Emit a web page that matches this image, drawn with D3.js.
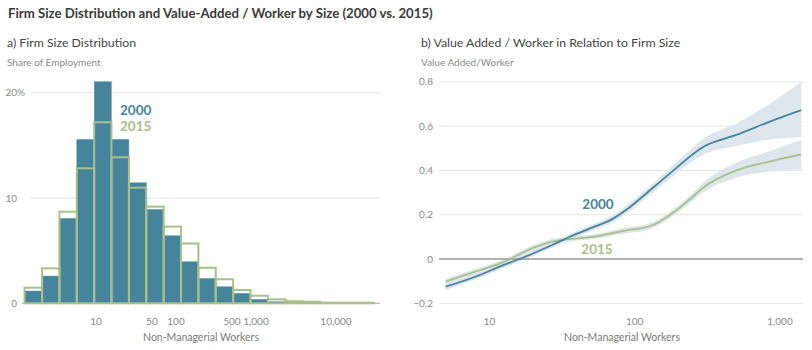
<!DOCTYPE html>
<html>
<head>
<meta charset="utf-8">
<script src="https://cdn.jsdelivr.net/npm/d3@7"></script>
<style>
  body { margin: 0; background: #fff; }
  svg { font-family: Lato, "Open Sans", sans-serif; }
  .grid line { stroke: #e4e4e4; stroke-width: 1; }
  .tick-label { fill: #8a8a8a; font-size: 10px; }
  .axis-title { fill: #7a7a7a; font-size: 10.5px; }
</style>
</head>
<body>
<script>
// ---- data ----
// histogram bin edges (number of non-managerial workers)
var binEdges = [1.28, 2.12, 3.49, 5.75, 9.49, 15.6, 25.8, 42.5, 70.1, 115.6, 190.6, 314, 518, 854, 1408, 2322, 3827, 6310, 29700];
var share2000 = [1.17, 2.59, 8.07, 15.57, 21.05, 15.57, 11.45, 8.93, 6.42, 3.95, 2.37, 1.58, 0.95, 0.38, 0.15, 0.05, 0.03, 0.02];
var share2015 = [1.48, 3.32, 8.7, 12.82, 17.19, 13.87, 10.98, 9.18, 7.28, 5.68, 3.38, 2.28, 1.26, 0.72, 0.38, 0.2, 0.15, 0.06];
var histYTicks = [0, 10, 20];
var histXTicks = [10, 50, 100, 500, 1000, 10000];

// value added / worker curves
var workers = [5, 8, 12, 20, 27, 38, 53, 70, 90, 130, 185, 250, 300, 500, 850, 1400];
var va2000 = [-0.125, -0.08, -0.032, 0.025, 0.063, 0.108, 0.146, 0.18, 0.228, 0.315, 0.40, 0.472, 0.508, 0.56, 0.62, 0.672];
var va2000Lo = [-0.14, -0.093, -0.045, 0.012, 0.05, 0.095, 0.132, 0.164, 0.21, 0.295, 0.375, 0.442, 0.472, 0.51, 0.54, 0.55];
var va2000Hi = [-0.11, -0.067, -0.019, 0.038, 0.076, 0.121, 0.16, 0.196, 0.246, 0.335, 0.425, 0.502, 0.545, 0.612, 0.7, 0.8];
var va2015 = [-0.102, -0.057, -0.019, 0.05, 0.078, 0.092, 0.101, 0.117, 0.13, 0.15, 0.21, 0.28, 0.325, 0.40, 0.44, 0.472];
var va2015Lo = [-0.115, -0.069, -0.031, 0.038, 0.066, 0.081, 0.09, 0.105, 0.117, 0.136, 0.195, 0.262, 0.302, 0.367, 0.395, 0.405];
var va2015Hi = [-0.089, -0.045, -0.007, 0.062, 0.09, 0.103, 0.112, 0.129, 0.143, 0.164, 0.225, 0.298, 0.348, 0.435, 0.487, 0.537];
var vaYTicks = [-0.2, 0, 0.2, 0.4, 0.6, 0.8];
var vaXTicks = [10, 100, 1000];

var teal = '#45849b', green = '#a8c089', band = '#dde6ec';
var fmt = d3.format(',');

var svg = d3.select('body').append('svg')
  .attr('width', 812)
  .attr('height', 350);

// titles
svg.append('text').attr('x', 8).attr('y', 18)
  .attr('font-size', 13.2).attr('font-weight', 'bold').attr('fill', '#3a3a3a')
  .text('Firm Size Distribution and Value-Added / Worker by Size (2000 vs. 2015)');
svg.append('text').attr('x', 7).attr('y', 47)
  .attr('font-size', 12.3).attr('fill', '#444')
  .text('a) Firm Size Distribution');
svg.append('text').attr('x', 421).attr('y', 47)
  .attr('font-size', 12.3).attr('fill', '#444')
  .text('b) Value Added / Worker in Relation to Firm Size');
svg.append('text').attr('x', 7).attr('y', 66)
  .attr('font-size', 10).attr('fill', '#8a8a8a')
  .text('Share of Employment');
svg.append('text').attr('x', 421).attr('y', 66)
  .attr('font-size', 10).attr('fill', '#8a8a8a')
  .text('Value Added/Worker');

// ---- a) histogram ----
var hx = d3.scaleLog().domain([1, 100000]).range([16, 416]);
var hy = d3.scaleLinear().domain([0, 20]).range([303.3, 92.7]);

var hg = svg.append('g');
hg.append('g').attr('class', 'grid')
  .selectAll('line').data(histYTicks.filter(function (d) { return d > 0; }))
  .enter().append('line')
  .attr('x1', 30).attr('x2', 380)
  .attr('y1', function (d) { return hy(d); })
  .attr('y2', function (d) { return hy(d); });

hg.selectAll('.tl').data(histYTicks).enter().append('text')
  .attr('class', 'tick-label')
  .attr('x', 17).attr('y', function (d) { return hy(d) + 3.5; })
  .attr('text-anchor', 'end')
  .text(function (d) { return d; });
hg.append('text').attr('class', 'tick-label')
  .attr('x', 17).attr('y', hy(20) + 3.5).text('%');

hg.append('line')
  .attr('x1', 22).attr('x2', 380)
  .attr('y1', hy(0)).attr('y2', hy(0))
  .attr('stroke', '#a8a8a8').attr('stroke-width', 1);

var bins = d3.range(share2000.length).map(function (i) {
  return { lo: binEdges[i], hi: binEdges[i + 1], a: share2000[i], b: share2015[i] };
});

hg.selectAll('.bar2000').data(bins).enter().append('rect')
  .attr('x', function (d) { return hx(d.lo); })
  .attr('width', function (d) { return hx(d.hi) - hx(d.lo); })
  .attr('y', function (d) { return hy(d.a); })
  .attr('height', function (d) { return hy(0) - hy(d.a); })
  .attr('fill', teal)
  .attr('stroke', '#6f9fb0').attr('stroke-width', 0.5);

hg.selectAll('.bar2015').data(bins).enter().append('rect')
  .attr('x', function (d) { return hx(d.lo); })
  .attr('width', function (d) { return hx(d.hi) - hx(d.lo); })
  .attr('y', function (d) { return hy(d.b); })
  .attr('height', function (d) { return hy(0) - hy(d.b); })
  .attr('fill', 'none')
  .attr('stroke', green).attr('stroke-width', 2);

hg.selectAll('.xl').data(histXTicks).enter().append('text')
  .attr('class', 'tick-label')
  .attr('x', function (d) { return hx(d); })
  .attr('y', 325)
  .attr('text-anchor', 'middle')
  .text(function (d) { return fmt(d); });
hg.append('text').attr('class', 'axis-title')
  .attr('x', 201).attr('y', 341).attr('text-anchor', 'middle')
  .text('Non-Managerial Workers');

hg.append('text').attr('x', 120).attr('y', 115)
  .attr('font-size', 13.5).attr('font-weight', 'bold').attr('fill', teal)
  .text('2000');
hg.append('text').attr('x', 120).attr('y', 131)
  .attr('font-size', 13.5).attr('font-weight', 'bold').attr('fill', green)
  .text('2015');

// ---- b) value added / worker ----
var vx = d3.scaleLog().domain([4.5, 1440]).range([439, 803]);
var vy = d3.scaleLinear().domain([-0.2, 0.8]).range([303.3, 81.8]);

var vg = svg.append('g');
vg.append('g').attr('class', 'grid')
  .selectAll('line').data(vaYTicks.filter(function (d) { return d !== 0; }))
  .enter().append('line')
  .attr('x1', 439).attr('x2', 803)
  .attr('y1', function (d) { return vy(d); })
  .attr('y2', function (d) { return vy(d); });

vg.selectAll('.tl').data(vaYTicks).enter().append('text')
  .attr('class', 'tick-label')
  .attr('x', 433).attr('y', function (d) { return vy(d) + 3.5; })
  .attr('text-anchor', 'end')
  .text(function (d) { return d === 0 ? '0' : d3.format('.1f')(d); });

function series(mid, lo, hi) {
  return workers.map(function (w, i) { return { w: w, v: mid[i], lo: lo[i], hi: hi[i] }; });
}
var s2000 = series(va2000, va2000Lo, va2000Hi);
var s2015 = series(va2015, va2015Lo, va2015Hi);

var area = d3.area()
  .x(function (d) { return vx(d.w); })
  .y0(function (d) { return vy(d.lo); })
  .y1(function (d) { return vy(d.hi); })
  .curve(d3.curveMonotoneX);
var line = d3.line()
  .x(function (d) { return vx(d.w); })
  .y(function (d) { return vy(d.v); })
  .curve(d3.curveMonotoneX);

vg.append('path').datum(s2000).attr('d', area).attr('fill', band);
vg.append('path').datum(s2015).attr('d', area).attr('fill', band);

vg.append('line')
  .attr('x1', 439).attr('x2', 803)
  .attr('y1', vy(0)).attr('y2', vy(0))
  .attr('stroke', '#999').attr('stroke-width', 1.3);

vg.append('path').datum(s2015).attr('d', line)
  .attr('fill', 'none').attr('stroke', green).attr('stroke-width', 1.8);
vg.append('path').datum(s2000).attr('d', line)
  .attr('fill', 'none').attr('stroke', teal).attr('stroke-width', 1.8);

vg.append('text').attr('x', 598).attr('y', 209).attr('text-anchor', 'middle')
  .attr('font-size', 13.5).attr('font-weight', 'bold').attr('fill', teal)
  .text('2000');
vg.append('text').attr('x', 597).attr('y', 254).attr('text-anchor', 'middle')
  .attr('font-size', 13.5).attr('font-weight', 'bold').attr('fill', green)
  .text('2015');

vg.selectAll('.xl').data(vaXTicks).enter().append('text')
  .attr('class', 'tick-label')
  .attr('x', function (d) { return vx(d); })
  .attr('y', 325)
  .attr('text-anchor', 'middle')
  .text(function (d) { return fmt(d); });
vg.append('text').attr('class', 'axis-title')
  .attr('x', 622).attr('y', 341).attr('text-anchor', 'middle')
  .text('Non-Managerial Workers');
</script>
</body>
</html>
